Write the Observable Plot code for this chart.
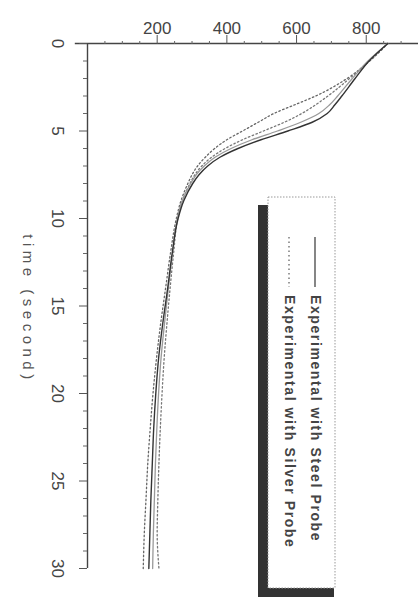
<!DOCTYPE html>
<html><head><meta charset="utf-8">
<script src="https://cdn.jsdelivr.net/npm/d3@7"></script>
<script src="https://cdn.jsdelivr.net/npm/@observablehq/plot@0.6"></script>
<style>body{margin:0;background:#fff} #chart{position:relative;width:420px;height:609px}</style>
</head><body><div id="chart"></div>
<script>
// time in seconds
const times = [0, 1, 2, 3, 3.5, 4, 4.5, 5, 5.5, 6, 6.5, 7, 7.5, 8, 9, 10, 12, 14, 16, 18, 20, 22, 24, 26, 28, 30];
// temperature readings (two steel-probe runs, two silver-probe runs)
const steelDark   = [862, 808, 768, 730, 710, 688, 645, 575, 498, 432, 380, 345, 320, 302, 276, 260, 243, 230, 216, 204, 196, 190, 186, 182, 179, 176];
const steelGray   = [862, 805, 760, 718, 695, 664, 612, 545, 472, 412, 366, 335, 312, 296, 272, 258, 244, 232, 221, 211, 204, 199, 195, 192, 189, 187];
const silverOuter = [862, 810, 745, 655, 595, 535, 490, 445, 400, 365, 338, 316, 300, 288, 268, 255, 238, 224, 210, 198, 188, 180, 173, 168, 163, 160];
const silverInner = [862, 808, 752, 690, 655, 615, 565, 505, 445, 395, 356, 328, 308, 294, 272, 259, 247, 237, 228, 220, 214, 209, 205, 202, 200, 205];
const legendLabels = ["Experimental with Steel Probe", "Experimental with Silver Probe"];
const tempTicks = [200, 400, 600, 800];
const tempMinor = [50, 100, 150, 250, 300, 350, 450, 500, 550, 650, 700, 750, 850, 900];
const timeTicks = [0, 5, 10, 15, 20, 25, 30];
const timeMinor = d3.range(0, 31, 1).filter(d => d % 5 !== 0);
const axisLabel = "time (second)";

const toRows = vals => times.map((t, i) => ({t, temp: vals[i]}));

const font = "'Liberation Sans', Arial, sans-serif";
const chart = Plot.plot({
  width: 420, height: 609,
  marginLeft: 87, marginRight: 2, marginTop: 43, marginBottom: 41,
  x: {domain: [0, 950], axis: null},
  y: {domain: [0, 30], reverse: true, axis: null},
  style: {fontFamily: font, background: "#fff", color: "#444"},
  marks: [
    Plot.ruleY([0], {x1: -35, x2: 950, stroke: "#444", strokeWidth: 1.4}),
    Plot.ruleX([0], {y1: 0, y2: 30, stroke: "#444", strokeWidth: 1.4}),
    Plot.axisX({anchor: "top", ticks: tempTicks, tickSize: 9, tickPadding: 1, fontSize: 17, stroke: "#555", label: null}),
    Plot.axisX({anchor: "top", ticks: tempMinor, tickSize: 3, tickFormat: () => "", stroke: "#666", label: null}),
    Plot.axisY({anchor: "left", ticks: timeTicks, tickSize: 8, tickFormat: () => "", stroke: "#555", label: null}),
    Plot.axisY({anchor: "left", ticks: timeMinor, tickSize: 4, tickFormat: () => "", stroke: "#666", label: null}),
    Plot.text(timeTicks, {x: 0, y: d => d, text: d => String(d), rotate: 90, dx: -30, fontSize: 17, fill: "#444"}),
    Plot.text([axisLabel], {frameAnchor: "left", textAnchor: "middle", dx: -60, dy: 3, rotate: 90, fontSize: 15, fill: "#555"}),
    Plot.line(toRows(silverOuter), {x: "temp", y: "t", curve: "monotone-y", stroke: "#666", strokeWidth: 1.3, strokeDasharray: "1.5,2.5"}),
    Plot.line(toRows(silverInner), {x: "temp", y: "t", curve: "monotone-y", stroke: "#777", strokeWidth: 1.3, strokeDasharray: "1.5,2.5"}),
    Plot.line(toRows(steelGray), {x: "temp", y: "t", curve: "monotone-y", stroke: "#999", strokeWidth: 1.3}),
    Plot.line(toRows(steelDark), {x: "temp", y: "t", curve: "monotone-y", stroke: "#333", strokeWidth: 1.4})
  ]
});
document.getElementById("chart").appendChild(chart);

const svg = d3.select(chart);
svg.selectAll("text").filter(function() { return this.textContent === axisLabel; }).attr("letter-spacing", 4.5);

// legend (rotated, with drop shadow)
const lg = svg.append("g").attr("font-family", font).attr("text-anchor", "start");
lg.append("rect").attr("x", 258).attr("y", 205).attr("width", 11).attr("height", 392).attr("fill", "#333");
lg.append("rect").attr("x", 258).attr("y", 587).attr("width", 76).attr("height", 10).attr("fill", "#333");
lg.append("rect").attr("x", 268).attr("y", 197).attr("width", 67).attr("height", 391)
  .attr("fill", "#fff").attr("stroke", "#999").attr("stroke-dasharray", "1.5,1.5");
const items = [
  {label: legendLabels[0], x: 315, dash: null, stroke: "#444"},
  {label: legendLabels[1], x: 289, dash: "1.5,3", stroke: "#666"}
];
for (const it of items) {
  lg.append("line").attr("x1", it.x).attr("x2", it.x).attr("y1", 237).attr("y2", 287)
    .attr("stroke", it.stroke).attr("stroke-width", 1.3).attr("stroke-dasharray", it.dash);
  lg.append("text").attr("transform", `translate(${it.x},295) rotate(90)`)
    .attr("text-anchor", "start").attr("dominant-baseline", "middle")
    .attr("font-weight", "bold").attr("font-size", 14)
    .attr("letter-spacing", 1.6).attr("fill", "#444").text(it.label);
}
</script></body></html>
